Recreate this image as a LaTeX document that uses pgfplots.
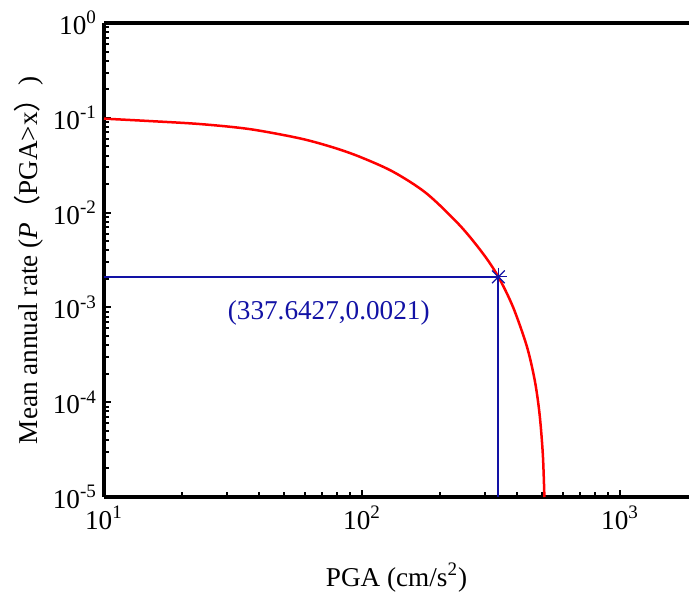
\documentclass[border=0pt]{standalone}
\usepackage{fontspec}
\setmainfont{Liberation Serif}
\newfontfamily\cjk{Noto Sans CJK SC}
\usepackage{pgfplots}
\pgfplotsset{compat=1.18}
\definecolor{annblue}{RGB}{18,18,165}
\definecolor{curvered}{RGB}{255,0,0}
\begin{document}
\begin{tikzpicture}
\path[use as bounding box] (-52pt,-49.5pt) rectangle (292.5pt,248.5pt);
\begin{axis}[
  at={(0,0)}, anchor=south west,
  scale only axis, width=292.5pt, height=237pt,
  xmode=log, ymode=log,
  xmin=10, xmax=1850, ymin=1e-5, ymax=1,
  axis lines*=left,
  axis line style={-, line width=1.6pt},
  tick align=inside,
  major tick length=3.6pt, minor tick length=2.3pt,
  every tick/.style={black, line width=1pt},
  xtick={10,100,1000},
  xticklabels={10\textsuperscript{1},10\textsuperscript{2},10\textsuperscript{3}},
  minor xtick={20,30,40,50,60,70,80,90,200,300,400,500,600,700,800,900},
  ytick={1e-5,1e-4,1e-3,1e-2,1e-1,1},
  yticklabels={10\textsuperscript{-5},10\textsuperscript{-4},10\textsuperscript{-3},10\textsuperscript{-2},10\textsuperscript{-1},10\textsuperscript{0}},
  minor ytick={2e-5,3e-5,4e-5,5e-5,6e-5,7e-5,8e-5,9e-5,2e-4,3e-4,4e-4,5e-4,6e-4,7e-4,8e-4,9e-4,2e-3,3e-3,4e-3,5e-3,6e-3,7e-3,8e-3,9e-3,2e-2,3e-2,4e-2,5e-2,6e-2,7e-2,8e-2,9e-2,2e-1,3e-1,4e-1,5e-1,6e-1,7e-1,8e-1,9e-1},
  tick label style={font=\fontsize{13.6}{16}\selectfont},
  label style={font=\fontsize{13.6}{16}\selectfont},
  xticklabel style={yshift=-1pt},
  xlabel={PGA (cm/s\textsuperscript{2})},
  ylabel={Mean annual rate (\textit{P}{\cjk （}PGA>x{\cjk ）})},
  xlabel style={yshift=-10pt},
  ylabel style={yshift=-2pt},
  clip=false,
]
\addplot[curvered, line width=1.25pt, smooth, tension=0.5] coordinates {
(10,0.098) (15.07,0.0924) (23.6,0.0859) (36.7,0.0760) (57.4,0.0607) (77.1,0.0488)
(98,0.0388) (131.9,0.0270) (177.5,0.0160) (238.8,0.00738) (294,0.00371)
(337.6,0.0021) (384.7,0.00101) (435,3.9e-4) (467,1.7e-4) (487.5,7.5e-5)
(502,2.8e-5) (509,1e-5)
};
\addplot[annblue, line width=1pt] coordinates {(10,0.0021) (337.6427,0.0021) (337.6427,1e-5)};
\addplot[annblue, only marks, mark=+, mark size=4.5pt, mark options={line width=0.6pt}] coordinates {(337.6427,0.0021)};
\addplot[annblue, only marks, mark=x, mark size=4.5pt, mark options={line width=0.6pt}] coordinates {(337.6427,0.0021)};
\node[text=annblue, font=\fontsize{13.6}{16}\selectfont] at (axis cs:74.3,8.7e-4) {(337.6427,0.0021)};
\draw[line width=1.6pt] (rel axis cs:0,1) -- (rel axis cs:1,1);
\end{axis}
\end{tikzpicture}
\end{document}
